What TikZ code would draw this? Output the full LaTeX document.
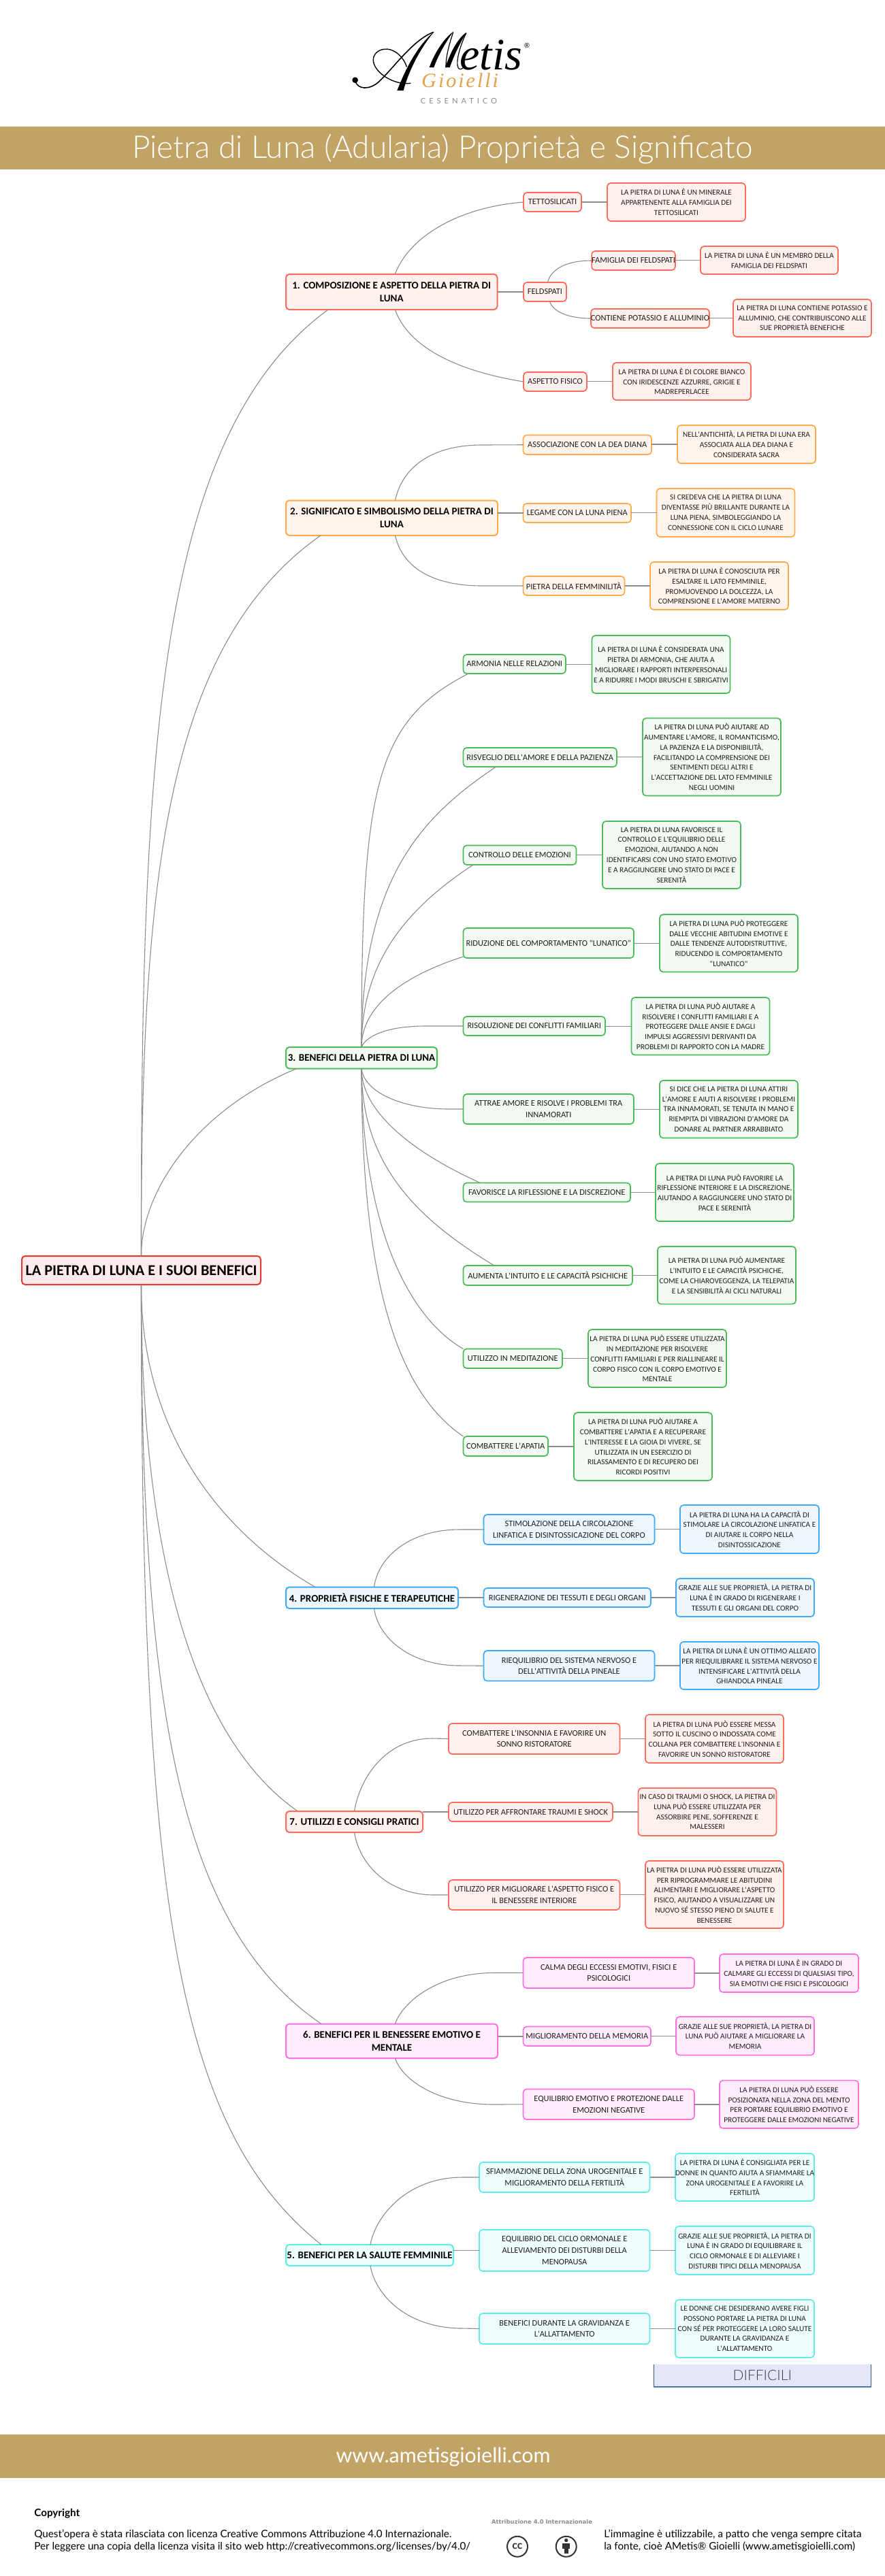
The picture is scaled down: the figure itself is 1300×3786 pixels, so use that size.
\documentclass[tikz,border=0pt]{standalone}
\usepackage{fontspec}
\setmainfont{Lato}
\newfontfamily\latolight{Lato Light}
\newfontfamily\logoserif{Liberation Serif}
\newfontfamily\carl{Carlito}
\newfontfamily\dejav{DejaVu Sans}
\definecolor{gold}{HTML}{C2A366}
\definecolor{linec}{HTML}{8C8C8C}
\definecolor{HTMLred}{HTML}{E53935}
\definecolor{HTMLredf}{HTML}{FFEBEB}
\tikzset{
  box/.style={rounded corners=2.5pt,inner sep=0pt,outer sep=0pt,align=center,text=black!88,line width=0.85pt},
  rootb/.style={box,font=\carl\bfseries\fontsize{11.1}{12}\selectfont,text=black,line width=1pt},
  head/.style={box,font=\carl\bfseries\fontsize{7.5}{9.7}\selectfont,text=black,line width=1pt},
  subn/.style={box,font=\carl\fontsize{6.2}{8.3}\selectfont},
  desc/.style={box,font=\carl\fontsize{5.65}{7.4}\selectfont},
  cRoot/.style={draw=HTMLred,fill=HTMLredf},
  conn/.style={draw=linec,line width=0.55pt},
  conns/.style={draw=linec,line width=0.75pt},
  cCor/.style={draw={rgb,255:red,255;green,107;blue,92},fill={rgb,255:red,255;green,241;blue,238}},
  cOra/.style={draw={rgb,255:red,255;green,171;blue,76},fill={rgb,255:red,255;green,245;blue,236}},
  cGre/.style={draw={rgb,255:red,76;green,187;blue,90},fill={rgb,255:red,242;green,250;blue,243}},
  cBlu/.style={draw={rgb,255:red,63;green,169;blue,245},fill={rgb,255:red,239;green,247;blue,254}},
  cPin/.style={draw={rgb,255:red,255;green,111;blue,224},fill={rgb,255:red,255;green,237;blue,252}},
  cCya/.style={draw={rgb,255:red,95;green,235;blue,232},fill={rgb,255:red,239;green,253;blue,253}},
}
% style, name, x1, y1, x2, y2, text (reference pixels)
\newcommand{\bx}[7]{%
  \pgfmathsetmacro\bxcx{(#3+#5)/2}\pgfmathsetmacro\bxcy{(#4+#6)/2}%
  \pgfmathsetmacro\bxw{(#5-#3)*0.5}\pgfmathsetmacro\bxh{(#6-#4)*0.5}%
  \node[#1,minimum width=\bxw pt,minimum height=\bxh pt] (#2) at (\bxcx,\bxcy) {#7};}
% straight connector: parent, child
\newcommand{\hl}[2]{\draw[conns] (#1.east |- #2.west) -- (#2.west);}
\begin{document}
\begin{tikzpicture}[x=0.5pt,y=-0.5pt]
\path[use as bounding box,fill=white] (0,0) rectangle (1300,3786);

% ---- logo ----
\begin{scope}[shift={(500,35)},x=0.16667pt,y=-0.16667pt]
  \fill (65,248) circle (13);
  \draw[line width=0.8pt,line cap=round] (65,250) .. controls (75,292) and (130,292) .. (170,255) .. controls (230,200) and (320,70) .. (410,37);
  \fill (413,35) .. controls (370,70) and (310,140) .. (250,294) -- (278,294) .. controls (300,210) and (350,110) .. (413,35) -- cycle;
  \draw[line width=0.7pt] (310,262) .. controls (230,272) and (145,210) .. (145,160) .. controls (145,115) and (200,100) .. (235,120) .. controls (265,135) and (285,165) .. (292,190);
  \fill (497,35) .. controls (450,70) and (410,140) .. (392,192) -- (412,192) .. controls (430,140) and (465,80) .. (497,35) -- cycle;
  \fill (555,38) .. controls (510,70) and (480,140) .. (462,192) -- (482,192) .. controls (500,140) and (530,80) .. (555,38) -- cycle;
  \draw[line width=0.6pt] (497,37) .. controls (480,90) and (465,140) .. (465,190);
  \draw[line width=0.6pt] (555,40) .. controls (530,90) and (505,170) .. (520,195) .. controls (527,204) and (535,200) .. (545,190);
\end{scope}
\node[anchor=base west,inner sep=0pt,font=\logoserif\itshape\fontsize{33}{33}\selectfont] (logoa) at (675,102) {etis};
\node[anchor=center,inner sep=0pt,font=\fontsize{5}{5}\selectfont] (logor) at (774,67) {®};
\node[anchor=base west,inner sep=0pt,text={rgb,255:red,224;green,162;blue,74},font=\logoserif\itshape\fontsize{15}{15}\selectfont\addfontfeatures{LetterSpace=10}] (logog) at (619,128) {Gioielli};
\node[anchor=center,inner sep=0pt,text=black!45,font=\fontsize{5.6}{6}\selectfont\addfontfeatures{LetterSpace=44}] (logoc) at (674,148) {CESENATICO};

% ---- banners ----
\node[fill=gold,minimum width=650pt,minimum height=31.5pt,inner sep=0pt,outer sep=0pt] (topb) at (650,217.5) {};
\node[text=white,inner sep=0pt,font=\latolight\fontsize{23}{24}\selectfont] (title) at (650,219) {Pietra di Luna (Adularia) Proprietà e Significato};
\node[fill=gold,minimum width=650pt,minimum height=32pt,inner sep=0pt,outer sep=0pt] (botb) at (650,3610) {};
\node[text=white,inner sep=0pt,font=\fontsize{15.2}{16}\selectfont] (site) at (651,3611) {www.ametisgioielli.com};

% ---- root ----
\bx{rootb,cRoot}{root}{32}{1846}{383}{1888}{LA PIETRA DI LUNA E I SUOI BENEFICI}

% ---- 1 ----
\bx{head,cCor}{c1}{420}{403}{730.5}{455}{1. COMPOSIZIONE E ASPETTO DELLA PIETRA DI\\LUNA}
\bx{subn,cCor}{a1}{769}{283}{854}{311}{TETTOSILICATI}
\bx{desc,cCor}{a1d}{892}{269}{1095}{325}{LA PIETRA DI LUNA È UN MINERALE\\APPARTENENTE ALLA FAMIGLIA DEI\\TETTOSILICATI}
\bx{subn,cCor}{a2}{769}{415}{832}{443}{FELDSPATI}
\bx{subn,cCor}{a3}{870}{369}{991}{397}{FAMIGLIA DEI FELDSPATI}
\bx{desc,cCor}{a3d}{1029}{362}{1231}{403}{LA PIETRA DI LUNA È UN MEMBRO DELLA\\FAMIGLIA DEI FELDSPATI}
\bx{subn,cCor}{a4}{870}{454}{1040}{482}{CONTIENE POTASSIO E ALLUMINIO}
\bx{desc,cCor}{a4d}{1077}{440}{1280}{495}{LA PIETRA DI LUNA CONTIENE POTASSIO E\\ALLUMINIO, CHE CONTRIBUISCONO ALLE\\SUE PROPRIETÀ BENEFICHE}
\bx{subn,cCor}{a5}{769}{547}{862}{575}{ASPETTO FISICO}
\bx{desc,cCor}{a5d}{900}{533}{1103}{588}{LA PIETRA DI LUNA È DI COLORE BIANCO\\CON IRIDESCENZE AZZURRE, GRIGIE E\\MADREPERLACEE}

% ---- 2 ----
\bx{head,cOra}{c2}{420}{735.5}{731}{787}{2. SIGNIFICATO E SIMBOLISMO DELLA PIETRA DI\\LUNA}
\bx{subn,cOra}{b1}{768.5}{639.5}{957}{668}{ASSOCIAZIONE CON LA DEA DIANA}
\bx{desc,cOra}{b1d}{995}{625}{1198}{681}{NELL'ANTICHITÀ, LA PIETRA DI LUNA ERA\\ASSOCIATA ALLA DEA DIANA E\\CONSIDERATA SACRA}
\bx{subn,cOra}{b2}{768.5}{740}{927}{768}{LEGAME CON LA LUNA PIENA}
\bx{desc,cOra}{b2d}{964.5}{718}{1167.5}{789}{SI CREDEVA CHE LA PIETRA DI LUNA\\DIVENTASSE PIÙ BRILLANTE DURANTE LA\\LUNA PIENA, SIMBOLEGGIANDO LA\\CONNESSIONE CON IL CICLO LUNARE}
\bx{subn,cOra}{b3}{768.5}{847}{917.5}{875}{PIETRA DELLA FEMMINILITÀ}
\bx{desc,cOra}{b3d}{955}{826}{1158}{896}{LA PIETRA DI LUNA È CONOSCIUTA PER\\ESALTARE IL LATO FEMMINILE,\\PROMUOVENDO LA DOLCEZZA, LA\\COMPRENSIONE E L'AMORE MATERNO}

% ---- 3 ----
\bx{head,cGre}{c3}{420}{1539}{642}{1570.5}{3. BENEFICI DELLA PIETRA DI LUNA}
\bx{subn,cGre}{g1}{680.5}{962}{831}{990}{ARMONIA NELLE RELAZIONI}
\bx{desc,cGre}{g1d}{869.5}{934}{1072.5}{1019}{LA PIETRA DI LUNA È CONSIDERATA UNA\\PIETRA DI ARMONIA, CHE AIUTA A\\MIGLIORARE I RAPPORTI INTERPERSONALI\\E A RIDURRE I MODI BRUSCHI E SBRIGATIVI}
\bx{subn,cGre}{g2}{680.5}{1099}{906}{1127}{RISVEGLIO DELL'AMORE E DELLA PAZIENZA}
\bx{desc,cGre}{g2d}{944}{1055.5}{1147}{1169.5}{LA PIETRA DI LUNA PUÒ AIUTARE AD\\AUMENTARE L'AMORE, IL ROMANTICISMO,\\LA PAZIENZA E LA DISPONIBILITÀ,\\FACILITANDO LA COMPRENSIONE DEI\\SENTIMENTI DEGLI ALTRI E\\L'ACCETTAZIONE DEL LATO FEMMINILE\\NEGLI UOMINI}
\bx{subn,cGre}{g3}{680.5}{1242.5}{846.5}{1271}{CONTROLLO DELLE EMOZIONI}
\bx{desc,cGre}{g3d}{885}{1207}{1088}{1306}{LA PIETRA DI LUNA FAVORISCE IL\\CONTROLLO E L'EQUILIBRIO DELLE\\EMOZIONI, AIUTANDO A NON\\IDENTIFICARSI CON UNO STATO EMOTIVO\\E A RAGGIUNGERE UNO STATO DI PACE E\\SERENITÀ}
\bx{subn,cGre}{g4}{680.5}{1364}{931}{1408}{RIDUZIONE DEL COMPORTAMENTO "LUNATICO"}
\bx{desc,cGre}{g4d}{969}{1344}{1172}{1428.5}{LA PIETRA DI LUNA PUÒ PROTEGGERE\\DALLE VECCHIE ABITUDINI EMOTIVE E\\DALLE TENDENZE AUTODISTRUTTIVE,\\RIDUCENDO IL COMPORTAMENTO\\"LUNATICO"}
\bx{subn,cGre}{g5}{680.5}{1494}{889}{1522}{RISOLUZIONE DEI CONFLITTI FAMILIARI}
\bx{desc,cGre}{g5d}{927.5}{1466}{1130.5}{1550.5}{LA PIETRA DI LUNA PUÒ AIUTARE A\\RISOLVERE I CONFLITTI FAMILIARI E A\\PROTEGGERE DALLE ANSIE E DAGLI\\IMPULSI AGGRESSIVI DERIVANTI DA\\PROBLEMI DI RAPPORTO CON LA MADRE}
\bx{subn,cGre}{g6}{680.5}{1608}{931}{1652}{ATTRAE AMORE E RISOLVE I PROBLEMI TRA\\INNAMORATI}
\bx{desc,cGre}{g6d}{969}{1588}{1172}{1672.5}{SI DICE CHE LA PIETRA DI LUNA ATTIRI\\L'AMORE E AIUTI A RISOLVERE I PROBLEMI\\TRA INNAMORATI, SE TENUTA IN MANO E\\RIEMPITA DI VIBRAZIONI D'AMORE DA\\DONARE AL PARTNER ARRABBIATO}
\bx{subn,cGre}{g7}{680.5}{1738.5}{926}{1766.5}{FAVORISCE LA RIFLESSIONE E LA DISCREZIONE}
\bx{desc,cGre}{g7d}{963}{1710}{1166}{1795}{LA PIETRA DI LUNA PUÒ FAVORIRE LA\\RIFLESSIONE INTERIORE E LA DISCREZIONE,\\AIUTANDO A RAGGIUNGERE UNO STATO DI\\PACE E SERENITÀ}
\bx{subn,cGre}{g8}{680.5}{1860}{929}{1889}{AUMENTA L'INTUITO E LE CAPACITÀ PSICHICHE}
\bx{desc,cGre}{g8d}{966}{1832}{1169}{1916.6}{LA PIETRA DI LUNA PUÒ AUMENTARE\\L'INTUITO E LE CAPACITÀ PSICHICHE,\\COME LA CHIAROVEGGENZA, LA TELEPATIA\\E LA SENSIBILITÀ AI CICLI NATURALI}
\bx{subn,cGre}{g9}{680.5}{1982.5}{826}{2011}{UTILIZZO IN MEDITAZIONE}
\bx{desc,cGre}{g9d}{864}{1954}{1067}{2039}{LA PIETRA DI LUNA PUÒ ESSERE UTILIZZATA\\IN MEDITAZIONE PER RISOLVERE\\CONFLITTI FAMILIARI E PER RIALLINEARE IL\\CORPO FISICO CON IL CORPO EMOTIVO E\\MENTALE}
\bx{subn,cGre}{g10}{680.5}{2111}{805}{2140}{COMBATTERE L'APATIA}
\bx{desc,cGre}{g10d}{843}{2076}{1046}{2176}{LA PIETRA DI LUNA PUÒ AIUTARE A\\COMBATTERE L'APATIA E A RECUPERARE\\L'INTERESSE E LA GIOIA DI VIVERE, SE\\UTILIZZATA IN UN ESERCIZIO DI\\RILASSAMENTO E DI RECUPERO DEI\\RICORDI POSITIVI}

% ---- 4 ----
\bx{head,cBlu}{c4}{420}{2332.5}{673}{2364}{4. PROPRIETÀ FISICHE E TERAPEUTICHE}
\bx{subn,cBlu}{p1}{710.5}{2226}{961.5}{2270}{STIMOLAZIONE DELLA CIRCOLAZIONE\\LINFATICA E DISINTOSSICAZIONE DEL CORPO}
\bx{desc,cBlu}{p1d}{999}{2212}{1203}{2283}{LA PIETRA DI LUNA HA LA CAPACITÀ DI\\STIMOLARE LA CIRCOLAZIONE LINFATICA E\\DI AIUTARE IL CORPO NELLA\\DISINTOSSICAZIONE}
\bx{subn,cBlu}{p2}{710.5}{2334}{956}{2362}{RIGENERAZIONE DEI TESSUTI E DEGLI ORGANI}
\bx{desc,cBlu}{p2d}{993}{2320}{1196}{2376}{GRAZIE ALLE SUE PROPRIETÀ, LA PIETRA DI\\LUNA È IN GRADO DI RIGENERARE I\\TESSUTI E GLI ORGANI DEL CORPO}
\bx{subn,cBlu}{p3}{710.5}{2426}{961.5}{2470.5}{RIEQUILIBRIO DEL SISTEMA NERVOSO E\\DELL'ATTIVITÀ DELLA PINEALE}
\bx{desc,cBlu}{p3d}{999}{2413}{1203}{2483}{LA PIETRA DI LUNA È UN OTTIMO ALLEATO\\PER RIEQUILIBRARE IL SISTEMA NERVOSO E\\INTENSIFICARE L'ATTIVITÀ DELLA\\GHIANDOLA PINEALE}

% ---- 7 ----
\bx{head,cCor}{c7}{420}{2662}{621}{2693}{7. UTILIZZI E CONSIGLI PRATICI}
\bx{subn,cCor}{u1}{659}{2533}{910.5}{2578}{COMBATTERE L'INSONNIA E FAVORIRE UN\\SONNO RISTORATORE}
\bx{desc,cCor}{u1d}{948}{2520}{1151}{2591}{LA PIETRA DI LUNA PUÒ ESSERE MESSA\\SOTTO IL CUSCINO O INDOSSATA COME\\COLLANA PER COMBATTERE L'INSONNIA E\\FAVORIRE UN SONNO RISTORATORE}
\bx{subn,cCor}{u2}{659}{2649}{900}{2677}{UTILIZZO PER AFFRONTARE TRAUMI E SHOCK}
\bx{desc,cCor}{u2d}{937.5}{2628}{1140.5}{2698}{IN CASO DI TRAUMI O SHOCK, LA PIETRA DI\\LUNA PUÒ ESSERE UTILIZZATA PER\\ASSORBIRE PENE, SOFFERENZE E\\MALESSERI}
\bx{subn,cCor}{u3}{659}{2763}{910.5}{2807}{UTILIZZO PER MIGLIORARE L'ASPETTO FISICO E\\IL BENESSERE INTERIORE}
\bx{desc,cCor}{u3d}{948}{2735}{1151}{2834}{LA PIETRA DI LUNA PUÒ ESSERE UTILIZZATA\\PER RIPROGRAMMARE LE ABITUDINI\\ALIMENTARI E MIGLIORARE L'ASPETTO\\FISICO, AIUTANDO A VISUALIZZARE UN\\NUOVO SÉ STESSO PIENO DI SALUTE E\\BENESSERE}

% ---- 6 ----
\bx{head,cPin}{c6}{420}{2974.5}{731}{3025}{6. BENEFICI PER IL BENESSERE EMOTIVO E\\MENTALE}
\bx{subn,cPin}{e1}{768.5}{2877}{1020}{2922}{CALMA DEGLI ECCESSI EMOTIVI, FISICI E\\PSICOLOGICI}
\bx{desc,cPin}{e1d}{1057}{2872}{1261}{2928}{LA PIETRA DI LUNA È IN GRADO DI\\CALMARE GLI ECCESSI DI QUALSIASI TIPO,\\SIA EMOTIVI CHE FISICI E PSICOLOGICI}
\bx{subn,cPin}{e2}{768.5}{2978.5}{956}{3007}{MIGLIORAMENTO DELLA MEMORIA}
\bx{desc,cPin}{e2d}{993}{2964}{1196}{3020.5}{GRAZIE ALLE SUE PROPRIETÀ, LA PIETRA DI\\LUNA PUÒ AIUTARE A MIGLIORARE LA\\MEMORIA}
\bx{subn,cPin}{e3}{768.5}{3070.5}{1020}{3115}{EQUILIBRIO EMOTIVO E PROTEZIONE DALLE\\EMOZIONI NEGATIVE}
\bx{desc,cPin}{e3d}{1057}{3057.6}{1261}{3128}{LA PIETRA DI LUNA PUÒ ESSERE\\POSIZIONATA NELLA ZONA DEL MENTO\\PER PORTARE EQUILIBRIO EMOTIVO E\\PROTEGGERE DALLE EMOZIONI NEGATIVE}

% ---- 5 ----
\bx{head,cCya}{c5}{420}{3299}{666}{3330}{5. BENEFICI PER LA SALUTE FEMMINILE}
\bx{subn,cCya}{f1}{704}{3178}{954.5}{3222}{SFIAMMAZIONE DELLA ZONA UROGENITALE E\\MIGLIORAMENTO DELLA FERTILITÀ}
\bx{desc,cCya}{f1d}{992}{3165}{1196}{3235}{LA PIETRA DI LUNA È CONSIGLIATA PER LE\\DONNE IN QUANTO AIUTA A SFIAMMARE LA\\ZONA UROGENITALE E A FAVORIRE LA\\FERTILITÀ}
\bx{subn,cCya}{f2}{704}{3277}{954.5}{3338}{EQUILIBRIO DEL CICLO ORMONALE E\\ALLEVIAMENTO DEI DISTURBI DELLA\\MENOPAUSA}
\bx{desc,cCya}{f2d}{992}{3272}{1196}{3343}{GRAZIE ALLE SUE PROPRIETÀ, LA PIETRA DI\\LUNA È IN GRADO DI EQUILIBRARE IL\\CICLO ORMONALE E DI ALLEVIARE I\\DISTURBI TIPICI DELLA MENOPAUSA}
\bx{subn,cCya}{f3}{704}{3400}{954.5}{3445}{BENEFICI DURANTE LA GRAVIDANZA E\\L'ALLATTAMENTO}
\bx{desc,cCya}{f3d}{992}{3380}{1196}{3465}{LE DONNE CHE DESIDERANO AVERE FIGLI\\POSSONO PORTARE LA PIETRA DI LUNA\\CON SÉ PER PROTEGGERE LA LORO SALUTE\\DURANTE LA GRAVIDANZA E\\L'ALLATTAMENTO}

% ---- DIFFICILI ----
\node[fill={rgb,255:red,230;green,230;blue,250},minimum width=159.75pt,minimum height=16.5pt,inner sep=0pt,outer sep=0pt,text=black!75,font=\latolight\fontsize{10.5}{12}\selectfont] (diff) at (1119.75,3491.5) {DIFFICILI};
\draw[line width=0.4pt,draw={rgb,255:red,60;green,80;blue,130}] (diff.north west) -- (diff.south west);
\draw[line width=0.4pt,draw={rgb,255:red,60;green,80;blue,130}] (diff.north east) -- (diff.south east);
\draw[line width=0.9pt,draw={rgb,255:red,70;green,120;blue,170}] (diff.south west) -- (diff.south east);

% ---- connectors: root ----
\draw[conn] (root.north) .. controls (207,1100) and (230,640) .. ([xshift=31pt]c1.south west);
\draw[conn] (root.north) .. controls (207,1300) and (240,950) .. ([xshift=25.5pt]c2.south west);
\draw[conn] (root.north) .. controls (207,1750) and (290,1630) .. ([xshift=8pt]c3.south west);
\draw[conn] (root.south) .. controls (207,2100) and (320,2250) .. ([xshift=21.5pt]c4.north west);
\draw[conn] (root.south) .. controls (207,2300) and (290,2560) .. ([xshift=8.75pt]c7.north west);
\draw[conn] (root.south) .. controls (207,2500) and (260,2830) .. ([xshift=26pt]c6.north west);
\draw[conn] (root.south) .. controls (207,2800) and (260,3130) .. ([xshift=26pt]c5.north west);

% ---- connectors: 1 ----
\draw[conn] ([xshift=2.5pt]c1.north) .. controls (600,350) and (670,305) .. (a1.west);
\draw[conn] ([xshift=2.5pt]c1.south) .. controls (600,510) and (670,545) .. (a5.west);
\hl{c1}{a2}
\draw[conn] ([xshift=2pt]a2.north) .. controls (808,400) and (825,383) .. (a3.west);
\draw[conn] ([xshift=3.5pt]a2.south) .. controls (812,458) and (835,468) .. (a4.west);
\hl{a1}{a1d}\hl{a3}{a3d}\hl{a4}{a4d}\hl{a5}{a5d}

% ---- connectors: 2 ----
\draw[conn] ([xshift=2.5pt]c2.north) .. controls (590,690) and (630,654) .. (708,654) -- (b1.west);
\draw[conn] ([xshift=2.5pt]c2.south) .. controls (590,830) and (630,861) .. (708,861) -- (b3.west);
\hl{c2}{b2}\hl{b1}{b1d}\hl{b2}{b2d}\hl{b3}{b3d}

% ---- connectors: 3 ----
\draw[conn] (c3.north) .. controls (531,1155) and (552,1060) .. ([xshift=3.75pt]g1.south west);
\draw[conn] (c3.north) .. controls (531,1290) and (620,1200) .. ([xshift=24pt]g2.south west);
\draw[conn] (c3.north) .. controls (531,1420) and (590,1340) .. ([xshift=7.25pt]g3.south west);
\draw[conn] (c3.north) .. controls (531,1480) and (590,1435) .. ([yshift=1pt]g4.south west);
\draw[conn] (c3.north) .. controls (538,1522) and (570,1508) .. (625,1508) -- (g5.west);
\draw[conn] (c3.south) .. controls (535,1605) and (590,1630) .. (660,1630) -- (g6.west);
\draw[conn] (c3.south) .. controls (531,1640) and (620,1700) .. ([xshift=12.5pt]g7.north west);
\draw[conn] (c3.south) .. controls (531,1710) and (610,1790) .. ([xshift=22.75pt]g8.north west);
\draw[conn] (c3.south) .. controls (531,1780) and (590,1930) .. (g9.north west);
\draw[conn] (c3.south) .. controls (531,1900) and (590,2050) .. (g10.north west);
\foreach \n in {1,...,10} {\hl{g\n}{g\n d}}

% ---- connectors: 4 ----
\draw[conn] ([xshift=1.5pt]c4.north) .. controls (555,2290) and (600,2248) .. (675,2248) -- (p1.west);
\draw[conn] ([xshift=1.5pt]c4.south) .. controls (555,2405) and (600,2448) .. (675,2448) -- (p3.west);
\hl{c4}{p2}\hl{p1}{p1d}\hl{p2}{p2d}\hl{p3}{p3d}

% ---- connectors: 7 ----
\draw[conn] (c7.north) .. controls (528,2615) and (565,2555) .. (635,2555) -- (u1.west);
\draw[conn] (c7.south) .. controls (528,2740) and (570,2785) .. (638,2785) -- (u3.west);
\hl{c7}{u2}\hl{u1}{u1d}\hl{u2}{u2d}\hl{u3}{u3d}

% ---- connectors: 6 ----
\draw[conn] ([xshift=2.5pt]c6.north) .. controls (590,2945) and (640,2899.5) .. (726,2899.5) -- (e1.west);
\draw[conn] ([xshift=2.5pt]c6.south) .. controls (590,3055) and (640,3093) .. (726,3093) -- (e3.west);
\hl{c6}{e2}\hl{e1}{e1d}\hl{e2}{e2d}\hl{e3}{e3d}

% ---- connectors: 5 ----
\draw[conn] ([xshift=0.5pt]c5.north) .. controls (552,3255) and (600,3200) .. (679,3200) -- (f1.west);
\draw[conn] ([xshift=0.5pt]c5.south) .. controls (552,3375) and (600,3422) .. (679,3422) -- (f3.west);
\hl{c5}{f2}\hl{f1}{f1d}\hl{f2}{f2d}\hl{f3}{f3d}

% ---- footer ----
\node[anchor=west,inner sep=0pt,font=\bfseries\fontsize{7.6}{9}\selectfont] (copy) at (50,3694) {Copyright};
\node[anchor=west,inner sep=0pt,font=\fontsize{7.6}{9}\selectfont] (lic1) at (50,3725) {Quest'opera è stata rilasciata con licenza Creative Commons Attribuzione 4.0 Internazionale.};
\node[anchor=west,inner sep=0pt,font=\fontsize{7.6}{9}\selectfont] (lic2) at (50,3743) {Per leggere una copia della licenza visita il sito web http://creativecommons.org/licenses/by/4.0/};
\node[anchor=west,inner sep=0pt,font=\fontsize{7.6}{9}\selectfont] (img1) at (887,3725) {L'immagine è utilizzabile, a patto che venga sempre citata};
\node[anchor=west,inner sep=0pt,font=\fontsize{7.6}{9}\selectfont] (img2) at (887,3743) {la fonte, cioè AMetis® Gioielli (www.ametisgioielli.com)};
\node[inner sep=0pt,text=black!45,font=\dejav\bfseries\fontsize{4.2}{5}\selectfont] (attr) at (796,3706) {Attribuzione 4.0 Internazionale};
\node[circle,draw=black!80,line width=1pt,minimum size=15pt,inner sep=0pt,font=\bfseries\fontsize{8}{8}\selectfont,text=black!80] (cc) at (760,3742.7) {cc};
\node[circle,draw=black!80,line width=1pt,minimum size=15pt,inner sep=0pt] (by) at (831.7,3742.7) {};
\fill[black!80] (831.7,3733.5) circle (2.7);
\fill[black!80] (826,3737.5) rectangle (837.4,3745.5);
\fill[black!80] (828.7,3745) rectangle (834.7,3752.5);
\end{tikzpicture}
\end{document}
